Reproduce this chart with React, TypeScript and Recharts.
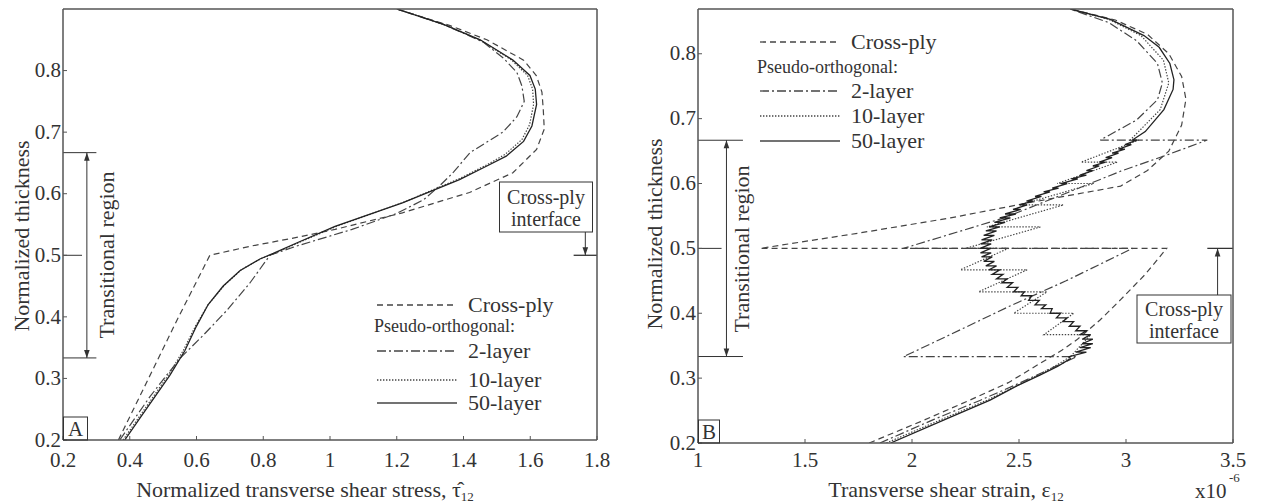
import React from "react";
import { LineChart, Line, XAxis, YAxis, ReferenceLine } from "recharts";

const FONT = '"Liberation Serif", "Times New Roman", serif';
const INK = "#333";
const AXIS = "#555";

// axes
const stressTicks = [0.2, 0.4, 0.6, 0.8, 1, 1.2, 1.4, 1.6, 1.8];
const strainTicks = [1, 1.5, 2, 2.5, 3, 3.5];
const thicknessTicks = [0.2, 0.3, 0.4, 0.5, 0.6, 0.7, 0.8];

// panel A: normalized transverse shear stress vs normalized thickness
const crossPlyStress = [
  [0.366, 0.2], [0.45, 0.293], [0.54, 0.393], [0.64, 0.5], [0.764, 0.515], [0.9, 0.529],
  [1.015, 0.542], [1.217, 0.569], [1.418, 0.602], [1.548, 0.634], [1.619, 0.672], [1.642, 0.705],
  [1.639, 0.737], [1.635, 0.765], [1.618, 0.792], [1.58, 0.817], [1.47, 0.85], [1.36, 0.873], [1.2, 0.9],
];
const twoLayerStress = [
  [0.37, 0.2], [0.415, 0.235], [0.46, 0.27], [0.51, 0.305], [0.555, 0.335], [0.62, 0.37], [0.69, 0.41],
  [0.76, 0.455], [0.82, 0.5], [0.9, 0.515], [1.066, 0.542], [1.2, 0.568], [1.28, 0.59], [1.327, 0.612],
  [1.37, 0.635], [1.42, 0.667], [1.518, 0.7], [1.56, 0.725], [1.582, 0.75], [1.575, 0.775], [1.56, 0.797],
  [1.52, 0.82], [1.46, 0.846], [1.34, 0.875], [1.2, 0.9],
];
const tenLayerStress = [
  [0.38, 0.2], [0.425, 0.235], [0.47, 0.27], [0.515, 0.305], [0.56, 0.345], [0.597, 0.385], [0.635, 0.42],
  [0.685, 0.452], [0.735, 0.477], [0.795, 0.495], [0.83, 0.502], [0.9, 0.519], [1.015, 0.546], [1.22, 0.586],
  [1.39, 0.625], [1.47, 0.647], [1.525, 0.664], [1.575, 0.688], [1.598, 0.712], [1.61, 0.745], [1.607, 0.77],
  [1.592, 0.792], [1.542, 0.818], [1.445, 0.851], [1.335, 0.876], [1.2, 0.9],
];
const fiftyLayerStress = [
  [0.385, 0.2], [0.43, 0.235], [0.475, 0.27], [0.52, 0.305], [0.565, 0.345], [0.6, 0.385], [0.635, 0.42],
  [0.68, 0.45], [0.73, 0.475], [0.79, 0.494], [0.83, 0.503], [0.9, 0.52], [1.015, 0.547], [1.217, 0.585],
  [1.388, 0.623], [1.47, 0.645], [1.528, 0.661], [1.58, 0.685], [1.605, 0.71], [1.619, 0.745], [1.615, 0.77],
  [1.599, 0.792], [1.548, 0.817], [1.45, 0.85], [1.34, 0.875], [1.2, 0.9],
];

// panel B: transverse shear strain (x1e-6) vs normalized thickness
const crossPlyStrain = [
  [1.8, 0.2], [2.04, 0.233], [2.27, 0.266], [2.45, 0.293], [2.6, 0.323], [2.7, 0.343], [2.77, 0.359],
  [2.88, 0.39], [2.975, 0.421], [3.09, 0.46], [3.19, 0.5], [1.29, 0.5], [1.76, 0.524], [2.18, 0.547],
  [2.54, 0.57], [2.975, 0.596], [3.1, 0.62], [3.2, 0.65], [3.26, 0.69], [3.28, 0.73], [3.26, 0.765],
  [3.2, 0.8], [3.1, 0.83], [2.95, 0.852], [2.74, 0.869],
];
const twoLayerStrain = [
  [1.85, 0.2], [2.1, 0.236], [2.32, 0.266], [2.5, 0.292], [2.65, 0.315], [2.77, 0.333], [1.96, 0.333],
  [2.178, 0.367], [2.45, 0.41], [2.72, 0.45], [3.03, 0.5], [1.96, 0.5], [2.43, 0.547], [2.72, 0.585],
  [2.975, 0.619], [3.2, 0.645], [3.38, 0.667], [2.88, 0.667], [3.05, 0.698], [3.147, 0.729], [3.17, 0.755],
  [3.147, 0.785], [3.05, 0.82], [2.92, 0.848], [2.74, 0.869],
];
const tenLayerStrain = [
  [1.88, 0.2], [2.15, 0.238], [2.35, 0.266], [2.5, 0.29], [2.65, 0.315], [2.74, 0.333],
  [2.835, 0.367], [2.617, 0.367], [2.756, 0.4], [2.475, 0.4], [2.631, 0.433], [2.311, 0.433],
  [2.538, 0.467], [2.226, 0.467], [2.45, 0.5], [2.25, 0.5], [2.6, 0.533], [2.35, 0.533],
  [2.708, 0.567], [2.505, 0.567], [2.85, 0.6], [2.678, 0.6], [2.96, 0.633], [2.79, 0.633],
  [3.06, 0.667], [3.02, 0.667], [3.16, 0.714], [3.2, 0.755], [3.175, 0.79], [3.07, 0.828],
  [2.92, 0.853], [2.74, 0.869],
];
const fiftyLayerStrainBottom = [
  [1.9, 0.2], [2.18, 0.24], [2.365, 0.266], [2.49, 0.288], [2.6, 0.305], [2.68, 0.318], [2.74, 0.33],
];
// ply interfaces inside the transitional region, with the strain on each side of the jump
const fiftyLevels = [
  0.333, 0.34, 0.347, 0.353, 0.36, 0.367, 0.373, 0.38, 0.387, 0.393, 0.4, 0.407, 0.413, 0.42, 0.427,
  0.433, 0.44, 0.447, 0.453, 0.46, 0.467, 0.473, 0.48, 0.487, 0.493, 0.5, 0.507, 0.513, 0.52, 0.527,
  0.533, 0.54, 0.547, 0.553, 0.56, 0.567, 0.573, 0.58, 0.587, 0.593, 0.6, 0.607, 0.613, 0.62, 0.627,
  0.633, 0.64, 0.647, 0.653, 0.66, 0.667,
];
const fiftyLeft = [
  2.735, 2.765, 2.785, 2.795, 2.795, 2.785, 2.765, 2.735, 2.705, 2.675, 2.645, 2.605, 2.575, 2.545, 2.51,
  2.475, 2.445, 2.42, 2.395, 2.375, 2.36, 2.345, 2.335, 2.325, 2.32, 2.318, 2.32, 2.325, 2.335, 2.345,
  2.36, 2.385, 2.41, 2.435, 2.472, 2.502, 2.535, 2.575, 2.615, 2.655, 2.695, 2.745, 2.785, 2.815, 2.845,
  2.875, 2.905, 2.935, 2.965, 2.995, 3.03,
];
const fiftyRight = [
  2.785, 2.815, 2.835, 2.845, 2.845, 2.835, 2.815, 2.785, 2.755, 2.725, 2.695, 2.655, 2.625, 2.595, 2.56,
  2.525, 2.495, 2.47, 2.445, 2.425, 2.41, 2.395, 2.385, 2.375, 2.37, 2.368, 2.37, 2.375, 2.385, 2.395,
  2.41, 2.435, 2.46, 2.485, 2.508, 2.538, 2.565, 2.605, 2.645, 2.685, 2.725, 2.775, 2.815, 2.845, 2.875,
  2.905, 2.935, 2.965, 2.995, 3.025, 3.05,
];
const fiftyLayerStrainTop = [
  [3.09, 0.68], [3.177, 0.714], [3.22, 0.745], [3.224, 0.76], [3.205, 0.785], [3.155, 0.81],
  [3.084, 0.828], [2.927, 0.853], [2.74, 0.869],
];

type Pt = { x: number; y: number };
const pts = (a: number[][]): Pt[] => a.map(([x, y]) => ({ x, y }));

const fiftyLayerStrain: Pt[] = (() => {
  const out = pts(fiftyLayerStrainBottom);
  out.push({ x: fiftyLeft[0], y: fiftyLevels[0] });
  for (let i = 1; i < fiftyLevels.length; i++) {
    out.push({ x: fiftyRight[i], y: fiftyLevels[i] });
    out.push({ x: fiftyLeft[i], y: fiftyLevels[i] });
  }
  return out.concat(pts(fiftyLayerStrainTop));
})();

const DASH_CROSS = "6 4";
const DASH_TWO = "9 3 2 3";
const DASH_TEN = "1.4 1.6";

const arrow = (both: boolean) => (p: any) => {
  const { x1, y1, x2, y2 } = p;
  const head = (ax: number, ay: number, bx: number, by: number) => {
    const a = Math.atan2(by - ay, bx - ax);
    const L = 8;
    const W = 2.8;
    const cx = bx - L * Math.cos(a);
    const cy = by - L * Math.sin(a);
    return `${bx},${by} ${cx - W * Math.sin(a)},${cy + W * Math.cos(a)} ${cx + W * Math.sin(a)},${cy - W * Math.cos(a)}`;
  };
  return (
    <g>
      <line x1={x1} y1={y1} x2={x2} y2={y2} stroke={INK} strokeWidth={1} />
      <polygon points={head(x1, y1, x2, y2)} fill={INK} />
      {both && <polygon points={head(x2, y2, x1, y1)} fill={INK} />}
    </g>
  );
};

// tick labels in the serif face of the figure
const serifTick = (p: any) => (
  <text
    x={p.x}
    y={p.y}
    textAnchor={p.textAnchor}
    dy={p.verticalAnchor === "start" ? "0.74em" : "0.32em"}
    fontFamily={FONT}
    style={{ fontFamily: FONT }}
    fontSize={21}
    fill={INK}
  >
    {p.payload.value}
  </text>
);

const axisCommon = {
  type: "number" as const,
  allowDataOverflow: true,
  axisLine: { stroke: AXIS, strokeWidth: 1.5 },
  tickLine: { stroke: AXIS },
  tickSize: -4,
};

function seriesLines(cross: number[][], two: number[][], ten: number[][], fifty: Pt[]) {
  const base = { dataKey: "y", dot: false, isAnimationActive: false, type: "linear" as const, strokeWidth: 1.2 };
  return [
    <Line key="c" {...base} data={pts(cross)} stroke="#444" strokeDasharray={DASH_CROSS} />,
    <Line key="t" {...base} data={pts(two)} stroke="#444" strokeDasharray={DASH_TWO} />,
    <Line key="d" {...base} data={pts(ten)} stroke="#444" strokeDasharray={DASH_TEN} />,
    <Line key="f" {...base} data={fifty} stroke="#222" strokeWidth={1.3} />,
  ];
}

function LegendBlock({ x, y }: { x: number; y: number[] }) {
  const textX = x + 91;
  const sample = (yy: number, dash?: string) => (
    <line x1={x} x2={x + 80} y1={yy} y2={yy} stroke="#444" strokeWidth={1.3} strokeDasharray={dash} />
  );
  return (
    <g fontFamily={FONT} fill={INK}>
      {sample(y[0], DASH_CROSS)}
      <text x={textX} y={y[0] + 7} fontSize={22}>Cross-ply</text>
      <text x={x - 3} y={y[1] + 6} fontSize={18}>Pseudo-orthogonal:</text>
      {sample(y[2], DASH_TWO)}
      <text x={textX} y={y[2] + 7} fontSize={22}>2-layer</text>
      {sample(y[3], DASH_TEN)}
      <text x={textX} y={y[3] + 7} fontSize={22}>10-layer</text>
      {sample(y[4])}
      <text x={textX} y={y[4] + 7} fontSize={22}>50-layer</text>
    </g>
  );
}

export default function App() {
  return (
    <div style={{ position: "absolute", left: 0, top: 0, width: 1263, height: 504, background: "#fff" }}>
      <div style={{ position: "absolute", left: 0, top: 0 }}>
        <LineChart width={630} height={504} margin={{ top: 8, left: 8, right: 32, bottom: 24 }}>
          <XAxis {...axisCommon} dataKey="x" domain={[0.2, 1.8]} ticks={stressTicks} height={40} tickMargin={15} tick={serifTick} />
          <XAxis {...axisCommon} xAxisId="top" orientation="top" domain={[0.2, 1.8]} ticks={stressTicks} height={1} tick={false} />
          <YAxis {...axisCommon} domain={[0.2, 0.9]} ticks={thicknessTicks} width={55} tickMargin={6} tick={serifTick} />
          <YAxis {...axisCommon} yAxisId="right" orientation="right" domain={[0.2, 0.9]} ticks={thicknessTicks} width={1} tick={false} />
          {seriesLines(crossPlyStress, twoLayerStress, tenLayerStress, pts(fiftyLayerStress))}
          <ReferenceLine segment={[{ x: 0.2, y: 0.6667 }, { x: 0.3, y: 0.6667 }]} stroke={INK} />
          <ReferenceLine segment={[{ x: 0.2, y: 0.3333 }, { x: 0.3, y: 0.3333 }]} stroke={INK} />
          <ReferenceLine segment={[{ x: 0.2, y: 0.5 }, { x: 0.257, y: 0.5 }]} stroke={INK} />
          <ReferenceLine segment={[{ x: 0.2715, y: 0.3333 }, { x: 0.2715, y: 0.6667 }]} shape={arrow(true)} />
          <ReferenceLine segment={[{ x: 1.73, y: 0.5 }, { x: 1.8, y: 0.5 }]} stroke={INK} strokeWidth={1.3} />
          <ReferenceLine segment={[{ x: 1.765, y: 0.539 }, { x: 1.765, y: 0.5 }]} shape={arrow(false)} />
        </LineChart>
      </div>
      <div style={{ position: "absolute", left: 630, top: 0 }}>
        <LineChart width={633} height={504} margin={{ top: 8, left: 13, right: 29, bottom: 21 }}>
          <XAxis {...axisCommon} dataKey="x" domain={[1, 3.5]} ticks={strainTicks} height={40} tickMargin={12} tick={serifTick} />
          <XAxis {...axisCommon} xAxisId="top" orientation="top" domain={[1, 3.5]} ticks={strainTicks} height={1} tick={false} />
          <YAxis {...axisCommon} domain={[0.2, 0.869]} ticks={thicknessTicks} width={55} tickMargin={6} tick={serifTick} />
          <YAxis {...axisCommon} yAxisId="right" orientation="right" domain={[0.2, 0.869]} ticks={thicknessTicks} width={1} tick={false} />
          {seriesLines(crossPlyStrain, twoLayerStrain, tenLayerStrain, fiftyLayerStrain)}
          <ReferenceLine segment={[{ x: 1, y: 0.6667 }, { x: 1.21, y: 0.6667 }]} stroke={INK} />
          <ReferenceLine segment={[{ x: 1, y: 0.3333 }, { x: 1.21, y: 0.3333 }]} stroke={INK} />
          <ReferenceLine segment={[{ x: 1, y: 0.5 }, { x: 1.11, y: 0.5 }]} stroke={INK} />
          <ReferenceLine segment={[{ x: 1.133, y: 0.3333 }, { x: 1.133, y: 0.6667 }]} shape={arrow(true)} />
          <ReferenceLine segment={[{ x: 3.38, y: 0.5 }, { x: 3.5, y: 0.5 }]} stroke={INK} strokeWidth={1.3} />
          <ReferenceLine segment={[{ x: 3.428, y: 0.428 }, { x: 3.428, y: 0.5 }]} shape={arrow(false)} />
        </LineChart>
      </div>
      <svg width={1263} height={504} style={{ position: "absolute", left: 0, top: 0, pointerEvents: "none" }}>
        <g fontFamily={FONT} fill={INK} fontSize={22}>
          {/* panel A */}
          <text transform="translate(21,236) rotate(-90)" textAnchor="middle" dominantBaseline="central">Normalized thickness</text>
          <text transform="translate(106,255) rotate(-90)" textAnchor="middle" dominantBaseline="central">Transitional region</text>
          <text x={305} y={497} textAnchor="middle">
            Normalized transverse shear stress, τ̂<tspan fontSize={13} dy={4}>12</tspan>
          </text>
          <rect x={63.5} y={417} width={24} height={23} fill="none" stroke={INK} />
          <text x={75.5} y={436} textAnchor="middle" fontSize={21}>A</text>
          <rect x={499.5} y={182} width={93} height={50} fill="#fff" stroke={INK} />
          <text x={546} y={204} textAnchor="middle" fontSize={20}>Cross-ply</text>
          <text x={546} y={226} textAnchor="middle" fontSize={20}>interface</text>
          {/* panel B */}
          <text transform="translate(654,234) rotate(-90)" textAnchor="middle" dominantBaseline="central">Normalized thickness</text>
          <text transform="translate(741,249) rotate(-90)" textAnchor="middle" dominantBaseline="central">Transitional region</text>
          <text x={946} y={497} textAnchor="middle">
            Transverse shear strain, ε<tspan fontSize={13} dy={4}>12</tspan>
          </text>
          <text x={1195} y={498} fontSize={21}>x10</text>
          <text x={1229} y={482} fontSize={13}>-6</text>
          <rect x={698.5} y={420} width={21} height={23} fill="none" stroke={INK} />
          <text x={709} y={439} textAnchor="middle" fontSize={21}>B</text>
          <rect x={1137} y={295} width={94} height={48} fill="#fff" stroke={INK} />
          <text x={1184} y={316} textAnchor="middle" fontSize={20}>Cross-ply</text>
          <text x={1184} y={338} textAnchor="middle" fontSize={20}>interface</text>
        </g>
        <LegendBlock x={377} y={[305, 326, 351, 380, 403]} />
        <LegendBlock x={760} y={[42, 67, 91, 116, 141]} />
      </svg>
    </div>
  );
}
